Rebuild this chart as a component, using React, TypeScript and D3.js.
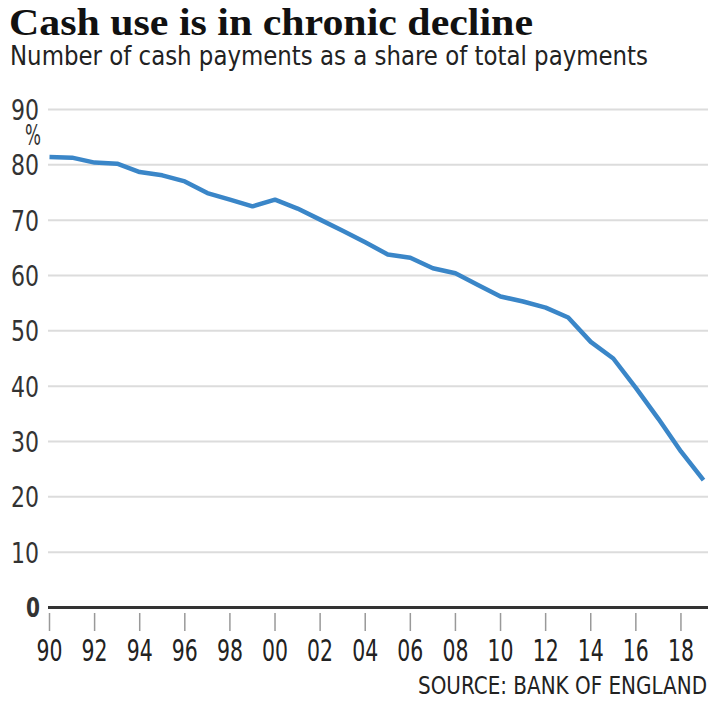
import React from "react";
import * as d3 from "d3";

const years: number[] = [
  1990, 1991, 1992, 1993, 1994, 1995, 1996, 1997, 1998, 1999,
  2000, 2001, 2002, 2003, 2004, 2005, 2006, 2007, 2008, 2009,
  2010, 2011, 2012, 2013, 2014, 2015, 2016, 2017, 2018, 2019,
];
const cashShare: number[] = [
  81.4, 81.3, 80.4, 80.2, 78.7, 78.1, 77.0, 74.9, 73.7, 72.5,
  73.7, 72.1, 70.1, 68.1, 66.0, 63.8, 63.2, 61.3, 60.4, 58.3,
  56.2, 55.3, 54.2, 52.4, 48.0, 45.0, 39.7, 34.1, 28.2, 23.0,
];
const yTicks: number[] = [10, 20, 30, 40, 50, 60, 70, 80, 90];
const xTickYears: number[] = [
  1990, 1992, 1994, 1996, 1998, 2000, 2002, 2004, 2006, 2008,
  2010, 2012, 2014, 2016, 2018,
];

const title = "Cash use is in chronic decline";
const subtitle = "Number of cash payments as a share of total payments";
const source = "SOURCE: BANK OF ENGLAND";

const W = 720;
const H = 704;
const SANS =
  "'Liberation Sans Narrow', 'DejaVu Sans Condensed', 'Roboto Condensed', 'Noto Sans', sans-serif";
const SERIF = "'Liberation Serif', 'DejaVu Serif', serif";

export default function App() {
  const x = d3.scaleLinear().domain([1990, 2019]).range([49.5, 703.5]);
  const y = d3.scaleLinear().domain([0, 90]).range([607.5, 109.5]);
  const gridX0 = 48;
  const gridX1 = 708;

  const data = years.map((yr, i) => ({ yr, v: cashShare[i] }));
  const line = d3
    .line<{ yr: number; v: number }>()
    .x((d) => x(d.yr))
    .y((d) => y(d.v));

  const fmtYear = (yr: number) => String(yr % 100).padStart(2, "0");

  return (
    <svg
      width={W}
      height={H}
      viewBox={`0 0 ${W} ${H}`}
      style={{ position: "fixed", left: 0, top: 0, background: "#fff" }}
    >
      <rect x={0} y={0} width={W} height={H} fill="#fff" />
      <text
        x={9}
        y={35}
        fontFamily={SERIF}
        fontWeight="bold"
        fontSize={37}
        fill="#111"
        textLength={524}
        lengthAdjust="spacingAndGlyphs"
      >
        {title}
      </text>
      <text
        x={10}
        y={65}
        fontFamily={SANS}
        fontSize={26}
        fill="#222"
        style={{ fontStretch: "condensed" }}
        textLength={638}
        lengthAdjust="spacingAndGlyphs"
      >
        {subtitle}
      </text>

      {/* gridlines */}
      {yTicks.map((t) => (
        <line
          key={"g" + t}
          x1={gridX0}
          x2={gridX1}
          y1={y(t)}
          y2={y(t)}
          stroke="#dcdcdc"
          strokeWidth={2}
        />
      ))}
      {/* y labels */}
      {yTicks.map((t) => (
        <text
          key={"yl" + t}
          x={39}
          y={y(t)}
          dy="0.36em"
          textAnchor="end"
          fontFamily={SANS}
          fontSize={29}
          fill="#333"
          style={{ fontStretch: "condensed" }}
          textLength={28}
          lengthAdjust="spacingAndGlyphs"
        >
          {t}
        </text>
      ))}
      <text
        x={25}
        y={145}
        fontFamily={SANS}
        fontSize={28}
        fill="#333"
        style={{ fontStretch: "condensed" }}
        textLength={16}
        lengthAdjust="spacingAndGlyphs"
      >
        %
      </text>
      <text
        x={40}
        y={y(0)}
        dy="0.36em"
        textAnchor="end"
        fontFamily={SANS}
        fontWeight="bold"
        fontSize={27}
        fill="#333"
        style={{ fontStretch: "condensed" }}
        textLength={14}
        lengthAdjust="spacingAndGlyphs"
      >
        0
      </text>

      {/* data line */}
      <path
        d={line(data) || ""}
        fill="none"
        stroke="#3a86c8"
        strokeWidth={4.5}
        strokeLinejoin="round"
        strokeLinecap="butt"
      />

      {/* zero line */}
      <line
        x1={gridX0}
        x2={gridX1}
        y1={y(0)}
        y2={y(0)}
        stroke="#333"
        strokeWidth={3}
      />

      {/* x ticks */}
      {xTickYears.map((yr) => (
        <line
          key={"xt" + yr}
          x1={x(yr)}
          x2={x(yr)}
          y1={613}
          y2={631}
          stroke="#999"
          strokeWidth={1.5}
        />
      ))}
      {xTickYears.map((yr) => (
        <text
          key={"xl" + yr}
          x={x(yr)}
          y={661}
          textAnchor="middle"
          fontFamily={SANS}
          fontSize={30}
          fill="#222"
          style={{ fontStretch: "condensed" }}
          textLength={26}
          lengthAdjust="spacingAndGlyphs"
        >
          {fmtYear(yr)}
        </text>
      ))}

      <text
        x={418}
        y={694}
        fontFamily={SANS}
        fontSize={24}
        fill="#222"
        style={{ fontStretch: "condensed" }}
        textLength={289}
        lengthAdjust="spacingAndGlyphs"
      >
        {source}
      </text>
    </svg>
  );
}
